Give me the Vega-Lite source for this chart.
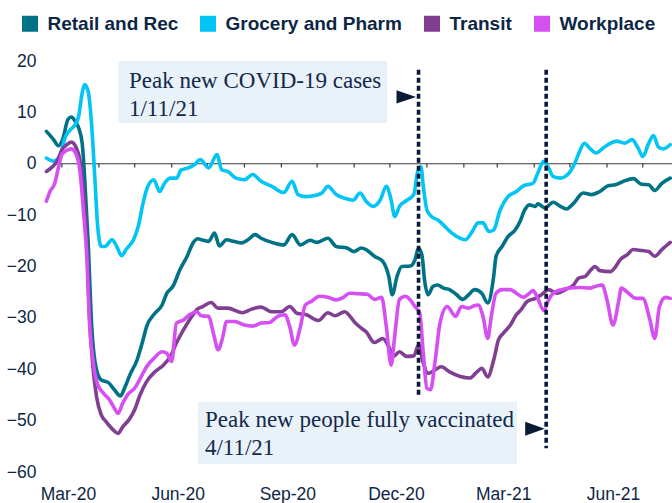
{
  "$schema": "https://vega.github.io/schema/vega-lite/v6.json",
  "width": 625,
  "height": 411,
  "autosize": "none",
  "padding": {"left": 47, "top": 61, "right": 0, "bottom": 31},
  "background": "white",
  "config": {"view": {"stroke": null}},
  "datasets": {
    "series": [
      {"s":"Retail and Rec","d":"2020-02-17","v":6.3},{"s":"Retail and Rec","d":"2020-02-23","v":4.7},{"s":"Retail and Rec","d":"2020-02-27","v":3.5},{"s":"Retail and Rec","d":"2020-03-02","v":5.0},{"s":"Retail and Rec","d":"2020-03-06","v":8.6},{"s":"Retail and Rec","d":"2020-03-09","v":9.1},{"s":"Retail and Rec","d":"2020-03-12","v":8.3},{"s":"Retail and Rec","d":"2020-03-15","v":7.0},{"s":"Retail and Rec","d":"2020-03-18","v":4.0},{"s":"Retail and Rec","d":"2020-03-20","v":-2.5},{"s":"Retail and Rec","d":"2020-03-23","v":-15.4},{"s":"Retail and Rec","d":"2020-03-26","v":-31.7},{"s":"Retail and Rec","d":"2020-03-30","v":-40.1},{"s":"Retail and Rec","d":"2020-04-03","v":-42.1},{"s":"Retail and Rec","d":"2020-04-09","v":-42.6},{"s":"Retail and Rec","d":"2020-04-14","v":-44.0},{"s":"Retail and Rec","d":"2020-04-19","v":-45.2},{"s":"Retail and Rec","d":"2020-04-23","v":-43.4},{"s":"Retail and Rec","d":"2020-04-27","v":-41.1},{"s":"Retail and Rec","d":"2020-05-03","v":-38.2},{"s":"Retail and Rec","d":"2020-05-08","v":-34.3},{"s":"Retail and Rec","d":"2020-05-11","v":-31.7},{"s":"Retail and Rec","d":"2020-05-18","v":-29.1},{"s":"Retail and Rec","d":"2020-05-24","v":-27.5},{"s":"Retail and Rec","d":"2020-05-28","v":-25.2},{"s":"Retail and Rec","d":"2020-06-02","v":-23.9},{"s":"Retail and Rec","d":"2020-06-08","v":-20.6},{"s":"Retail and Rec","d":"2020-06-14","v":-18.0},{"s":"Retail and Rec","d":"2020-06-19","v":-15.4},{"s":"Retail and Rec","d":"2020-06-23","v":-14.6},{"s":"Retail and Rec","d":"2020-06-26","v":-14.8},{"s":"Retail and Rec","d":"2020-07-02","v":-15.1},{"s":"Retail and Rec","d":"2020-07-07","v":-13.5},{"s":"Retail and Rec","d":"2020-07-11","v":-16.0},{"s":"Retail and Rec","d":"2020-07-17","v":-14.8},{"s":"Retail and Rec","d":"2020-07-23","v":-15.1},{"s":"Retail and Rec","d":"2020-07-30","v":-15.4},{"s":"Retail and Rec","d":"2020-08-04","v":-14.8},{"s":"Retail and Rec","d":"2020-08-10","v":-13.8},{"s":"Retail and Rec","d":"2020-08-15","v":-14.5},{"s":"Retail and Rec","d":"2020-08-24","v":-15.3},{"s":"Retail and Rec","d":"2020-09-03","v":-15.8},{"s":"Retail and Rec","d":"2020-09-10","v":-13.8},{"s":"Retail and Rec","d":"2020-09-17","v":-15.8},{"s":"Retail and Rec","d":"2020-09-25","v":-14.9},{"s":"Retail and Rec","d":"2020-10-01","v":-15.3},{"s":"Retail and Rec","d":"2020-10-10","v":-14.5},{"s":"Retail and Rec","d":"2020-10-17","v":-16.1},{"s":"Retail and Rec","d":"2020-10-26","v":-16.4},{"s":"Retail and Rec","d":"2020-11-01","v":-17.1},{"s":"Retail and Rec","d":"2020-11-07","v":-16.4},{"s":"Retail and Rec","d":"2020-11-11","v":-16.7},{"s":"Retail and Rec","d":"2020-11-18","v":-18.0},{"s":"Retail and Rec","d":"2020-11-25","v":-19.0},{"s":"Retail and Rec","d":"2020-11-30","v":-21.9},{"s":"Retail and Rec","d":"2020-12-03","v":-25.5},{"s":"Retail and Rec","d":"2020-12-07","v":-21.9},{"s":"Retail and Rec","d":"2020-12-11","v":-20.0},{"s":"Retail and Rec","d":"2020-12-18","v":-19.9},{"s":"Retail and Rec","d":"2020-12-22","v":-18.7},{"s":"Retail and Rec","d":"2020-12-25","v":-16.4},{"s":"Retail and Rec","d":"2020-12-28","v":-18.0},{"s":"Retail and Rec","d":"2020-12-30","v":-22.6},{"s":"Retail and Rec","d":"2021-01-02","v":-25.5},{"s":"Retail and Rec","d":"2021-01-06","v":-23.9},{"s":"Retail and Rec","d":"2021-01-10","v":-23.6},{"s":"Retail and Rec","d":"2021-01-15","v":-24.2},{"s":"Retail and Rec","d":"2021-01-20","v":-24.5},{"s":"Retail and Rec","d":"2021-01-26","v":-25.5},{"s":"Retail and Rec","d":"2021-01-31","v":-26.4},{"s":"Retail and Rec","d":"2021-02-05","v":-25.5},{"s":"Retail and Rec","d":"2021-02-10","v":-24.5},{"s":"Retail and Rec","d":"2021-02-16","v":-25.2},{"s":"Retail and Rec","d":"2021-02-21","v":-27.1},{"s":"Retail and Rec","d":"2021-02-26","v":-21.9},{"s":"Retail and Rec","d":"2021-02-28","v":-18.0},{"s":"Retail and Rec","d":"2021-03-05","v":-16.1},{"s":"Retail and Rec","d":"2021-03-10","v":-14.2},{"s":"Retail and Rec","d":"2021-03-16","v":-12.9},{"s":"Retail and Rec","d":"2021-03-20","v":-11.3},{"s":"Retail and Rec","d":"2021-03-24","v":-9.0},{"s":"Retail and Rec","d":"2021-03-28","v":-8.0},{"s":"Retail and Rec","d":"2021-04-02","v":-8.3},{"s":"Retail and Rec","d":"2021-04-04","v":-7.8},{"s":"Retail and Rec","d":"2021-04-10","v":-8.6},{"s":"Retail and Rec","d":"2021-04-17","v":-7.5},{"s":"Retail and Rec","d":"2021-04-23","v":-8.3},{"s":"Retail and Rec","d":"2021-04-28","v":-8.8},{"s":"Retail and Rec","d":"2021-05-04","v":-7.7},{"s":"Retail and Rec","d":"2021-05-12","v":-5.7},{"s":"Retail and Rec","d":"2021-05-19","v":-6.0},{"s":"Retail and Rec","d":"2021-05-26","v":-5.4},{"s":"Retail and Rec","d":"2021-06-02","v":-4.3},{"s":"Retail and Rec","d":"2021-06-08","v":-4.1},{"s":"Retail and Rec","d":"2021-06-15","v":-3.4},{"s":"Retail and Rec","d":"2021-06-23","v":-2.9},{"s":"Retail and Rec","d":"2021-06-30","v":-4.0},{"s":"Retail and Rec","d":"2021-07-06","v":-4.1},{"s":"Retail and Rec","d":"2021-07-11","v":-5.2},{"s":"Retail and Rec","d":"2021-07-17","v":-3.8},{"s":"Retail and Rec","d":"2021-07-24","v":-2.8},

      {"s":"Grocery and Pharm","d":"2020-02-17","v":1.1},{"s":"Grocery and Pharm","d":"2020-02-23","v":0.5},{"s":"Grocery and Pharm","d":"2020-02-28","v":1.4},{"s":"Grocery and Pharm","d":"2020-03-04","v":5.3},{"s":"Grocery and Pharm","d":"2020-03-08","v":6.6},{"s":"Grocery and Pharm","d":"2020-03-12","v":7.6},{"s":"Grocery and Pharm","d":"2020-03-15","v":9.2},{"s":"Grocery and Pharm","d":"2020-03-18","v":13.8},{"s":"Grocery and Pharm","d":"2020-03-20","v":15.4},{"s":"Grocery and Pharm","d":"2020-03-23","v":14.1},{"s":"Grocery and Pharm","d":"2020-03-26","v":7.3},{"s":"Grocery and Pharm","d":"2020-03-29","v":-4.4},{"s":"Grocery and Pharm","d":"2020-03-31","v":-12.2},{"s":"Grocery and Pharm","d":"2020-04-03","v":-16.1},{"s":"Grocery and Pharm","d":"2020-04-06","v":-16.1},{"s":"Grocery and Pharm","d":"2020-04-12","v":-14.8},{"s":"Grocery and Pharm","d":"2020-04-16","v":-16.1},{"s":"Grocery and Pharm","d":"2020-04-20","v":-17.9},{"s":"Grocery and Pharm","d":"2020-04-24","v":-16.6},{"s":"Grocery and Pharm","d":"2020-04-30","v":-14.8},{"s":"Grocery and Pharm","d":"2020-05-04","v":-12.2},{"s":"Grocery and Pharm","d":"2020-05-08","v":-7.7},{"s":"Grocery and Pharm","d":"2020-05-12","v":-4.4},{"s":"Grocery and Pharm","d":"2020-05-17","v":-3.1},{"s":"Grocery and Pharm","d":"2020-05-22","v":-5.4},{"s":"Grocery and Pharm","d":"2020-05-26","v":-3.8},{"s":"Grocery and Pharm","d":"2020-05-31","v":-2.8},{"s":"Grocery and Pharm","d":"2020-06-05","v":-2.8},{"s":"Grocery and Pharm","d":"2020-06-09","v":-1.2},{"s":"Grocery and Pharm","d":"2020-06-15","v":-0.8},{"s":"Grocery and Pharm","d":"2020-06-20","v":-0.2},{"s":"Grocery and Pharm","d":"2020-06-25","v":0.8},{"s":"Grocery and Pharm","d":"2020-07-02","v":-0.8},{"s":"Grocery and Pharm","d":"2020-07-09","v":1.8},{"s":"Grocery and Pharm","d":"2020-07-13","v":-1.2},{"s":"Grocery and Pharm","d":"2020-07-18","v":-1.5},{"s":"Grocery and Pharm","d":"2020-07-25","v":-2.8},{"s":"Grocery and Pharm","d":"2020-08-01","v":-3.1},{"s":"Grocery and Pharm","d":"2020-08-08","v":-2.1},{"s":"Grocery and Pharm","d":"2020-08-15","v":-3.4},{"s":"Grocery and Pharm","d":"2020-08-24","v":-4.4},{"s":"Grocery and Pharm","d":"2020-09-03","v":-5.6},{"s":"Grocery and Pharm","d":"2020-09-10","v":-3.4},{"s":"Grocery and Pharm","d":"2020-09-15","v":-6.0},{"s":"Grocery and Pharm","d":"2020-09-22","v":-6.4},{"s":"Grocery and Pharm","d":"2020-09-29","v":-6.2},{"s":"Grocery and Pharm","d":"2020-10-05","v":-5.7},{"s":"Grocery and Pharm","d":"2020-10-10","v":-4.4},{"s":"Grocery and Pharm","d":"2020-10-17","v":-6.0},{"s":"Grocery and Pharm","d":"2020-10-24","v":-6.7},{"s":"Grocery and Pharm","d":"2020-10-31","v":-7.1},{"s":"Grocery and Pharm","d":"2020-11-06","v":-5.7},{"s":"Grocery and Pharm","d":"2020-11-11","v":-7.3},{"s":"Grocery and Pharm","d":"2020-11-17","v":-8.3},{"s":"Grocery and Pharm","d":"2020-11-23","v":-7.0},{"s":"Grocery and Pharm","d":"2020-11-28","v":-4.4},{"s":"Grocery and Pharm","d":"2020-12-02","v":-7.0},{"s":"Grocery and Pharm","d":"2020-12-05","v":-10.3},{"s":"Grocery and Pharm","d":"2020-12-09","v":-8.3},{"s":"Grocery and Pharm","d":"2020-12-14","v":-7.3},{"s":"Grocery and Pharm","d":"2020-12-21","v":-6.0},{"s":"Grocery and Pharm","d":"2020-12-24","v":-1.8},{"s":"Grocery and Pharm","d":"2020-12-27","v":-0.6},{"s":"Grocery and Pharm","d":"2020-12-29","v":-4.4},{"s":"Grocery and Pharm","d":"2021-01-01","v":-9.0},{"s":"Grocery and Pharm","d":"2021-01-05","v":-10.3},{"s":"Grocery and Pharm","d":"2021-01-10","v":-10.9},{"s":"Grocery and Pharm","d":"2021-01-16","v":-12.2},{"s":"Grocery and Pharm","d":"2021-01-22","v":-13.5},{"s":"Grocery and Pharm","d":"2021-01-29","v":-14.5},{"s":"Grocery and Pharm","d":"2021-02-02","v":-14.8},{"s":"Grocery and Pharm","d":"2021-02-08","v":-13.2},{"s":"Grocery and Pharm","d":"2021-02-13","v":-11.5},{"s":"Grocery and Pharm","d":"2021-02-17","v":-11.5},{"s":"Grocery and Pharm","d":"2021-02-22","v":-13.2},{"s":"Grocery and Pharm","d":"2021-02-26","v":-12.9},{"s":"Grocery and Pharm","d":"2021-03-03","v":-9.3},{"s":"Grocery and Pharm","d":"2021-03-10","v":-6.4},{"s":"Grocery and Pharm","d":"2021-03-17","v":-5.4},{"s":"Grocery and Pharm","d":"2021-03-23","v":-4.3},{"s":"Grocery and Pharm","d":"2021-03-31","v":-3.8},{"s":"Grocery and Pharm","d":"2021-04-04","v":-1.8},{"s":"Grocery and Pharm","d":"2021-04-09","v":0.5},{"s":"Grocery and Pharm","d":"2021-04-13","v":-0.8},{"s":"Grocery and Pharm","d":"2021-04-17","v":-2.5},{"s":"Grocery and Pharm","d":"2021-04-23","v":-2.8},{"s":"Grocery and Pharm","d":"2021-04-29","v":-2.1},{"s":"Grocery and Pharm","d":"2021-05-05","v":0.1},{"s":"Grocery and Pharm","d":"2021-05-09","v":2.4},{"s":"Grocery and Pharm","d":"2021-05-13","v":4.0},{"s":"Grocery and Pharm","d":"2021-05-18","v":2.9},{"s":"Grocery and Pharm","d":"2021-05-23","v":2.1},{"s":"Grocery and Pharm","d":"2021-05-29","v":3.1},{"s":"Grocery and Pharm","d":"2021-06-04","v":4.0},{"s":"Grocery and Pharm","d":"2021-06-09","v":4.4},{"s":"Grocery and Pharm","d":"2021-06-16","v":4.0},{"s":"Grocery and Pharm","d":"2021-06-22","v":4.7},{"s":"Grocery and Pharm","d":"2021-06-27","v":3.1},{"s":"Grocery and Pharm","d":"2021-07-01","v":1.4},{"s":"Grocery and Pharm","d":"2021-07-06","v":4.0},{"s":"Grocery and Pharm","d":"2021-07-10","v":5.5},{"s":"Grocery and Pharm","d":"2021-07-14","v":3.3},{"s":"Grocery and Pharm","d":"2021-07-18","v":2.9},{"s":"Grocery and Pharm","d":"2021-07-24","v":3.7},

      {"s":"Transit","d":"2020-02-17","v":-1.5},{"s":"Transit","d":"2020-02-21","v":-0.8},{"s":"Transit","d":"2020-02-26","v":0.5},{"s":"Transit","d":"2020-03-01","v":2.7},{"s":"Transit","d":"2020-03-05","v":3.7},{"s":"Transit","d":"2020-03-09","v":4.2},{"s":"Transit","d":"2020-03-13","v":3.1},{"s":"Transit","d":"2020-03-16","v":0.8},{"s":"Transit","d":"2020-03-19","v":-5.7},{"s":"Transit","d":"2020-03-22","v":-16.1},{"s":"Transit","d":"2020-03-24","v":-29.1},{"s":"Transit","d":"2020-03-27","v":-39.5},{"s":"Transit","d":"2020-03-30","v":-45.3},{"s":"Transit","d":"2020-04-03","v":-48.9},{"s":"Transit","d":"2020-04-07","v":-50.2},{"s":"Transit","d":"2020-04-13","v":-51.8},{"s":"Transit","d":"2020-04-17","v":-52.5},{"s":"Transit","d":"2020-04-21","v":-51.2},{"s":"Transit","d":"2020-04-26","v":-49.9},{"s":"Transit","d":"2020-05-01","v":-47.9},{"s":"Transit","d":"2020-05-05","v":-45.3},{"s":"Transit","d":"2020-05-11","v":-42.4},{"s":"Transit","d":"2020-05-18","v":-40.5},{"s":"Transit","d":"2020-05-25","v":-39.2},{"s":"Transit","d":"2020-05-31","v":-37.5},{"s":"Transit","d":"2020-06-05","v":-34.9},{"s":"Transit","d":"2020-06-11","v":-32.3},{"s":"Transit","d":"2020-06-18","v":-29.7},{"s":"Transit","d":"2020-06-22","v":-28.4},{"s":"Transit","d":"2020-06-27","v":-27.8},{"s":"Transit","d":"2020-07-04","v":-27.0},{"s":"Transit","d":"2020-07-10","v":-28.1},{"s":"Transit","d":"2020-07-18","v":-28.1},{"s":"Transit","d":"2020-07-30","v":-29.0},{"s":"Transit","d":"2020-08-07","v":-28.3},{"s":"Transit","d":"2020-08-15","v":-27.9},{"s":"Transit","d":"2020-08-24","v":-28.8},{"s":"Transit","d":"2020-09-01","v":-28.8},{"s":"Transit","d":"2020-09-08","v":-27.8},{"s":"Transit","d":"2020-09-14","v":-29.1},{"s":"Transit","d":"2020-09-22","v":-29.4},{"s":"Transit","d":"2020-10-02","v":-30.5},{"s":"Transit","d":"2020-10-10","v":-29.0},{"s":"Transit","d":"2020-10-16","v":-29.6},{"s":"Transit","d":"2020-10-24","v":-28.8},{"s":"Transit","d":"2020-11-02","v":-31.0},{"s":"Transit","d":"2020-11-07","v":-32.0},{"s":"Transit","d":"2020-11-11","v":-32.7},{"s":"Transit","d":"2020-11-18","v":-34.8},{"s":"Transit","d":"2020-11-25","v":-34.0},{"s":"Transit","d":"2020-11-30","v":-35.6},{"s":"Transit","d":"2020-12-04","v":-37.5},{"s":"Transit","d":"2020-12-09","v":-36.6},{"s":"Transit","d":"2020-12-15","v":-37.5},{"s":"Transit","d":"2020-12-21","v":-37.4},{"s":"Transit","d":"2020-12-25","v":-35.3},{"s":"Transit","d":"2020-12-29","v":-38.8},{"s":"Transit","d":"2021-01-02","v":-40.8},{"s":"Transit","d":"2021-01-08","v":-40.1},{"s":"Transit","d":"2021-01-13","v":-39.5},{"s":"Transit","d":"2021-01-20","v":-40.5},{"s":"Transit","d":"2021-01-29","v":-41.4},{"s":"Transit","d":"2021-02-06","v":-41.7},{"s":"Transit","d":"2021-02-12","v":-40.5},{"s":"Transit","d":"2021-02-16","v":-39.8},{"s":"Transit","d":"2021-02-21","v":-41.5},{"s":"Transit","d":"2021-02-26","v":-38.2},{"s":"Transit","d":"2021-03-02","v":-34.3},{"s":"Transit","d":"2021-03-06","v":-33.0},{"s":"Transit","d":"2021-03-12","v":-31.4},{"s":"Transit","d":"2021-03-17","v":-29.4},{"s":"Transit","d":"2021-03-21","v":-28.4},{"s":"Transit","d":"2021-03-26","v":-26.8},{"s":"Transit","d":"2021-04-02","v":-26.2},{"s":"Transit","d":"2021-04-07","v":-25.5},{"s":"Transit","d":"2021-04-13","v":-24.5},{"s":"Transit","d":"2021-04-20","v":-25.2},{"s":"Transit","d":"2021-04-28","v":-24.4},{"s":"Transit","d":"2021-05-04","v":-23.6},{"s":"Transit","d":"2021-05-08","v":-22.3},{"s":"Transit","d":"2021-05-14","v":-21.9},{"s":"Transit","d":"2021-05-18","v":-20.8},{"s":"Transit","d":"2021-05-22","v":-20.0},{"s":"Transit","d":"2021-05-26","v":-20.8},{"s":"Transit","d":"2021-06-04","v":-21.0},{"s":"Transit","d":"2021-06-08","v":-20.1},{"s":"Transit","d":"2021-06-12","v":-18.7},{"s":"Transit","d":"2021-06-18","v":-17.7},{"s":"Transit","d":"2021-06-23","v":-16.7},{"s":"Transit","d":"2021-06-30","v":-16.9},{"s":"Transit","d":"2021-07-06","v":-17.1},{"s":"Transit","d":"2021-07-11","v":-18.0},{"s":"Transit","d":"2021-07-17","v":-16.7},{"s":"Transit","d":"2021-07-24","v":-15.3},

      {"s":"Workplace","d":"2020-02-17","v":-7.3},{"s":"Workplace","d":"2020-02-20","v":-5.4},{"s":"Workplace","d":"2020-02-24","v":-3.8},{"s":"Workplace","d":"2020-02-27","v":-0.8},{"s":"Workplace","d":"2020-03-01","v":1.8},{"s":"Workplace","d":"2020-03-05","v":2.6},{"s":"Workplace","d":"2020-03-09","v":2.9},{"s":"Workplace","d":"2020-03-13","v":1.8},{"s":"Workplace","d":"2020-03-16","v":-1.2},{"s":"Workplace","d":"2020-03-19","v":-9.0},{"s":"Workplace","d":"2020-03-22","v":-18.7},{"s":"Workplace","d":"2020-03-24","v":-30.4},{"s":"Workplace","d":"2020-03-27","v":-38.2},{"s":"Workplace","d":"2020-03-31","v":-43.0},{"s":"Workplace","d":"2020-04-05","v":-44.7},{"s":"Workplace","d":"2020-04-10","v":-46.0},{"s":"Workplace","d":"2020-04-14","v":-47.6},{"s":"Workplace","d":"2020-04-17","v":-48.6},{"s":"Workplace","d":"2020-04-21","v":-46.6},{"s":"Workplace","d":"2020-04-26","v":-44.7},{"s":"Workplace","d":"2020-05-01","v":-43.7},{"s":"Workplace","d":"2020-05-05","v":-42.1},{"s":"Workplace","d":"2020-05-11","v":-39.5},{"s":"Workplace","d":"2020-05-17","v":-37.9},{"s":"Workplace","d":"2020-05-24","v":-36.6},{"s":"Workplace","d":"2020-05-28","v":-36.9},{"s":"Workplace","d":"2020-06-01","v":-38.5},{"s":"Workplace","d":"2020-06-05","v":-31.0},{"s":"Workplace","d":"2020-06-11","v":-30.4},{"s":"Workplace","d":"2020-06-16","v":-29.4},{"s":"Workplace","d":"2020-06-22","v":-28.8},{"s":"Workplace","d":"2020-06-26","v":-29.6},{"s":"Workplace","d":"2020-07-02","v":-29.7},{"s":"Workplace","d":"2020-07-06","v":-33.0},{"s":"Workplace","d":"2020-07-10","v":-36.2},{"s":"Workplace","d":"2020-07-14","v":-33.6},{"s":"Workplace","d":"2020-07-17","v":-30.7},{"s":"Workplace","d":"2020-07-24","v":-30.7},{"s":"Workplace","d":"2020-08-01","v":-31.4},{"s":"Workplace","d":"2020-08-08","v":-31.6},{"s":"Workplace","d":"2020-08-15","v":-31.0},{"s":"Workplace","d":"2020-08-22","v":-30.9},{"s":"Workplace","d":"2020-08-29","v":-29.7},{"s":"Workplace","d":"2020-09-04","v":-29.4},{"s":"Workplace","d":"2020-09-08","v":-31.7},{"s":"Workplace","d":"2020-09-12","v":-35.3},{"s":"Workplace","d":"2020-09-17","v":-31.7},{"s":"Workplace","d":"2020-09-21","v":-27.5},{"s":"Workplace","d":"2020-09-26","v":-26.8},{"s":"Workplace","d":"2020-10-03","v":-25.8},{"s":"Workplace","d":"2020-10-10","v":-26.0},{"s":"Workplace","d":"2020-10-17","v":-26.5},{"s":"Workplace","d":"2020-10-23","v":-26.0},{"s":"Workplace","d":"2020-10-28","v":-25.2},{"s":"Workplace","d":"2020-11-04","v":-25.3},{"s":"Workplace","d":"2020-11-12","v":-25.4},{"s":"Workplace","d":"2020-11-18","v":-26.4},{"s":"Workplace","d":"2020-11-24","v":-26.0},{"s":"Workplace","d":"2020-11-28","v":-31.7},{"s":"Workplace","d":"2020-12-02","v":-39.2},{"s":"Workplace","d":"2020-12-05","v":-33.6},{"s":"Workplace","d":"2020-12-09","v":-26.4},{"s":"Workplace","d":"2020-12-14","v":-25.8},{"s":"Workplace","d":"2020-12-18","v":-26.5},{"s":"Workplace","d":"2020-12-22","v":-27.8},{"s":"Workplace","d":"2020-12-26","v":-29.1},{"s":"Workplace","d":"2020-12-29","v":-36.9},{"s":"Workplace","d":"2021-01-01","v":-43.7},{"s":"Workplace","d":"2021-01-04","v":-44.0},{"s":"Workplace","d":"2021-01-08","v":-38.2},{"s":"Workplace","d":"2021-01-12","v":-31.0},{"s":"Workplace","d":"2021-01-18","v":-27.8},{"s":"Workplace","d":"2021-01-25","v":-29.7},{"s":"Workplace","d":"2021-01-30","v":-27.8},{"s":"Workplace","d":"2021-02-05","v":-28.1},{"s":"Workplace","d":"2021-02-09","v":-27.7},{"s":"Workplace","d":"2021-02-13","v":-27.5},{"s":"Workplace","d":"2021-02-17","v":-29.7},{"s":"Workplace","d":"2021-02-21","v":-34.0},{"s":"Workplace","d":"2021-02-24","v":-29.7},{"s":"Workplace","d":"2021-02-28","v":-25.2},{"s":"Workplace","d":"2021-03-05","v":-24.5},{"s":"Workplace","d":"2021-03-12","v":-24.5},{"s":"Workplace","d":"2021-03-17","v":-25.2},{"s":"Workplace","d":"2021-03-23","v":-26.0},{"s":"Workplace","d":"2021-03-27","v":-25.4},{"s":"Workplace","d":"2021-03-31","v":-24.7},{"s":"Workplace","d":"2021-04-04","v":-26.2},{"s":"Workplace","d":"2021-04-09","v":-28.6},{"s":"Workplace","d":"2021-04-13","v":-26.5},{"s":"Workplace","d":"2021-04-17","v":-25.2},{"s":"Workplace","d":"2021-04-24","v":-24.5},{"s":"Workplace","d":"2021-05-01","v":-24.2},{"s":"Workplace","d":"2021-05-09","v":-24.1},{"s":"Workplace","d":"2021-05-18","v":-24.2},{"s":"Workplace","d":"2021-05-22","v":-23.9},{"s":"Workplace","d":"2021-05-28","v":-23.6},{"s":"Workplace","d":"2021-06-01","v":-26.5},{"s":"Workplace","d":"2021-06-06","v":-31.4},{"s":"Workplace","d":"2021-06-11","v":-26.5},{"s":"Workplace","d":"2021-06-13","v":-24.2},{"s":"Workplace","d":"2021-06-19","v":-25.2},{"s":"Workplace","d":"2021-06-25","v":-26.2},{"s":"Workplace","d":"2021-07-01","v":-26.2},{"s":"Workplace","d":"2021-07-07","v":-30.4},{"s":"Workplace","d":"2021-07-11","v":-34.0},{"s":"Workplace","d":"2021-07-15","v":-27.8},{"s":"Workplace","d":"2021-07-20","v":-26.0},{"s":"Workplace","d":"2021-07-24","v":-26.2}
    ],
    "months": [
      {"m":"2020-03-01"},{"m":"2020-04-01"},{"m":"2020-05-01"},{"m":"2020-06-01"},{"m":"2020-07-01"},{"m":"2020-08-01"},{"m":"2020-09-01"},{"m":"2020-10-01"},{"m":"2020-11-01"},{"m":"2020-12-01"},{"m":"2021-01-01"},{"m":"2021-02-01"},{"m":"2021-03-01"},{"m":"2021-04-01"},{"m":"2021-05-01"},{"m":"2021-06-01"},{"m":"2021-07-01"}
    ]
  },
  "layer": [
    {
      "data": {"values": [{}]},
      "mark": {"type": "rect", "color": "#e9f2f9"},
      "encoding": {
        "x": {"datum": {"year": 2020, "month": 4, "date": 17, "utc": true}, "type": "temporal"},
        "x2": {"datum": {"year": 2020, "month": 11, "date": 28, "hours": 12, "utc": true}},
        "y": {"datum": 20, "type": "quantitative"},
        "y2": {"datum": 7.95}
      }
    },
    {
      "data": {"values": [{}]},
      "mark": {"type": "rect", "color": "#e9f2f9"},
      "encoding": {
        "x": {"datum": {"year": 2020, "month": 6, "date": 23, "utc": true}, "type": "temporal"},
        "x2": {"datum": {"year": 2021, "month": 3, "date": 17, "hours": 12, "utc": true}},
        "y": {"datum": -46.35, "type": "quantitative"},
        "y2": {"datum": -58.45}
      }
    },
    {
      "data": {"values": [{}]},
      "mark": {"type": "rule", "color": "#3a3a3a", "strokeWidth": 1.2},
      "encoding": {
        "x": {"datum": {"year": 2020, "month": 2, "date": 27, "utc": true}, "type": "temporal"},
        "x2": {"datum": {"year": 2021, "month": 7, "date": 25, "hours": 12, "utc": true}},
        "y": {"datum": 0, "type": "quantitative"}
      }
    },
    {
      "data": {"name": "months"},
      "mark": {"type": "rule", "color": "#3a3a3a", "strokeWidth": 1.2},
      "encoding": {
        "x": {"field": "m", "type": "temporal"},
        "y": {"datum": 0, "type": "quantitative"},
        "y2": {"datum": -0.75}
      }
    },
    {
      "data": {"name": "series"},
      "mark": {"type": "line", "strokeWidth": 3.6, "interpolate": "monotone", "strokeJoin": "round", "strokeCap": "round"},
      "encoding": {
        "x": {
          "field": "d", "type": "temporal",
          "scale": {"type": "utc", "domain": [{"year": 2020, "month": 2, "date": 17, "hours": 12, "utc": true}, {"year": 2021, "month": 7, "date": 25, "hours": 12, "utc": true}]},
          "axis": {
            "title": null, "domain": false, "ticks": false, "grid": false,
            "values": [{"year": 2020, "month": 3, "date": 1, "utc": true}, {"year": 2020, "month": 6, "date": 1, "utc": true}, {"year": 2020, "month": 9, "date": 1, "utc": true}, {"year": 2020, "month": 12, "date": 1, "utc": true}, {"year": 2021, "month": 3, "date": 1, "utc": true}, {"year": 2021, "month": 6, "date": 1, "utc": true}],
            "format": "%b-%y", "labelFont": "Liberation Sans", "labelFontSize": 17.5, "labelColor": "#0d2645",
            "labelPadding": 13, "labelOffset": 6, "labelFlush": false, "labelOverlap": false
          }
        },
        "y": {
          "field": "v", "type": "quantitative",
          "scale": {"domain": [-60, 20], "nice": false, "zero": false},
          "axis": {
            "title": null, "domain": false, "ticks": false, "grid": false,
            "values": [-60, -50, -40, -30, -20, -10, 0, 10, 20],
            "labelFont": "Liberation Sans", "labelFontSize": 17.5, "labelColor": "#0d2645",
            "labelPadding": 11, "labelFlush": false, "labelOverlap": false
          }
        },
        "color": {
          "field": "s", "type": "nominal",
          "scale": {"domain": ["Retail and Rec", "Grocery and Pharm", "Transit", "Workplace"], "range": ["#007286", "#00c5f5", "#813f93", "#d64ff2"]},
          "legend": {
            "title": null, "orient": "none", "direction": "horizontal", "legendX": -26.5, "legendY": -47,
            "symbolType": "square", "symbolSize": 256, "symbolStrokeWidth": 0,
            "labelFont": "Liberation Sans", "labelFontSize": 19, "labelFontWeight": "bold", "labelColor": "#0d2645",
            "labelOffset": 8, "columnPadding": 20, "padding": 0, "labelLimit": 400,
            "encode": {"symbols": {"update": {"fill": {"scale": "color", "field": "value"}, "fillOpacity": {"value": 1}, "strokeWidth": {"value": 0}}}}
          }
        },
        "order": {"field": "d", "type": "temporal"}
      }
    },
    {
      "data": {"values": [{}]},
      "mark": {"type": "rule", "color": "#0b1a36", "strokeWidth": 3.6, "strokeDash": [5, 3]},
      "encoding": {
        "x": {"datum": {"year": 2020, "month": 12, "date": 25, "utc": true}, "type": "temporal"},
        "y": {"datum": 18.3, "type": "quantitative"},
        "y2": {"datum": -45.4}
      }
    },
    {
      "data": {"values": [{}]},
      "mark": {"type": "rule", "color": "#0b1a36", "strokeWidth": 3.6, "strokeDash": [5, 3]},
      "encoding": {
        "x": {"datum": {"year": 2021, "month": 4, "date": 11, "utc": true}, "type": "temporal"},
        "y": {"datum": 18.3, "type": "quantitative"},
        "y2": {"datum": -55.4}
      }
    },
    {
      "data": {"values": [{}]},
      "mark": {"type": "point", "shape": "M-1,-0.68L1,0L-1,0.68Z", "filled": true, "size": 380, "color": "#0b1a36", "opacity": 1},
      "encoding": {
        "x": {"datum": {"year": 2020, "month": 12, "date": 14, "hours": 17, "utc": true}, "type": "temporal"},
        "y": {"datum": 13.0, "type": "quantitative"}
      }
    },
    {
      "data": {"values": [{}]},
      "mark": {"type": "point", "shape": "M-1,-0.72L1,0L-1,0.72Z", "filled": true, "size": 380, "color": "#0b1a36", "opacity": 1},
      "encoding": {
        "x": {"datum": {"year": 2021, "month": 4, "date": 1, "hours": 14, "utc": true}, "type": "temporal"},
        "y": {"datum": -51.6, "type": "quantitative"}
      }
    },
    {
      "data": {"values": [{}]},
      "mark": {"type": "text", "text": ["Peak new COVID-19 cases", "1/11/21"], "align": "left", "baseline": "alphabetic", "font": "Liberation Serif", "fontSize": 23, "lineHeight": 28.5, "color": "#13294b"},
      "encoding": {
        "x": {"datum": {"year": 2020, "month": 4, "date": 26, "hours": 5, "utc": true}, "type": "temporal"},
        "y": {"datum": 14.76, "type": "quantitative"}
      }
    },
    {
      "data": {"values": [{}]},
      "mark": {"type": "text", "text": ["Peak new people fully vaccinated", "4/11/21"], "align": "left", "baseline": "alphabetic", "font": "Liberation Serif", "fontSize": 23, "lineHeight": 28.3, "color": "#13294b"},
      "encoding": {
        "x": {"datum": {"year": 2020, "month": 6, "date": 28, "hours": 22, "utc": true}, "type": "temporal"},
        "y": {"datum": -51.17, "type": "quantitative"}
      }
    }
  ]
}
